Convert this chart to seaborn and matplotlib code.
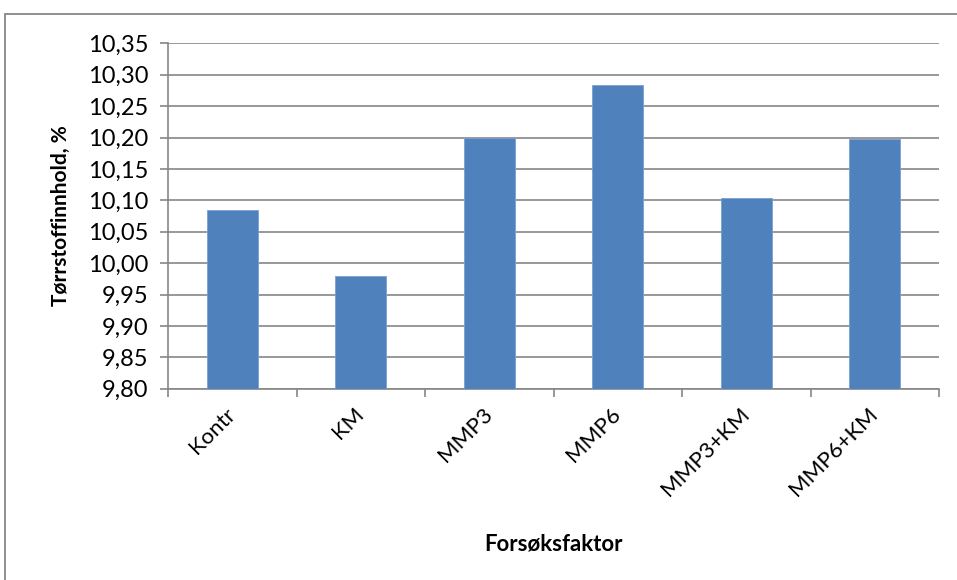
import matplotlib
matplotlib.use("Agg")
import matplotlib.pyplot as plt
from matplotlib.patches import Rectangle
from matplotlib.ticker import FixedLocator, FuncFormatter
import seaborn as sns
import pandas as pd

categories = ["Kontr", "KM", "MMP3", "MMP6", "MMP3+KM", "MMP6+KM"]
values = [10.084, 9.980, 10.200, 10.284, 10.103, 10.197]
y_ticks = [9.80, 9.85, 9.90, 9.95, 10.00, 10.05, 10.10, 10.15, 10.20, 10.25, 10.30, 10.35]

sns.set_theme(style="white")
plt.rcParams["font.family"] = ["Lato", "DejaVu Sans"]

df = pd.DataFrame({"Forsøksfaktor": categories, "value": values})

fig = plt.figure(figsize=(9.57, 5.8), dpi=100)
ax = fig.add_axes([168 / 957, 1 - 388.7 / 580, (939 - 168) / 957, (388.7 - 43.3) / 580])

grid_col = "#868686"
sns.barplot(data=df, x="Forsøksfaktor", y="value", color="#4f81bd", saturation=1,
            width=0.4, ax=ax, zorder=3, edgecolor="#7aa0d0", linewidth=0.6)

ax.set_ylim(9.80, 10.35)
ax.set_xlim(-0.5, len(categories) - 0.5)
ax.yaxis.set_major_locator(FixedLocator(y_ticks))
ax.yaxis.set_major_formatter(FuncFormatter(lambda v, p: f"{v:.2f}".replace(".", ",")))
ax.grid(axis="y", color=grid_col, linewidth=1.2, zorder=0)
ax.set_axisbelow(True)

for side in ["top", "right"]:
    ax.spines[side].set_visible(False)
for side in ["left", "bottom"]:
    ax.spines[side].set_color(grid_col)
    ax.spines[side].set_linewidth(1.2)

# category boundary ticks on the x axis
ax.set_xticks([i - 0.5 for i in range(len(categories) + 1)], minor=True)
ax.set_xticks(range(len(categories)))
ax.tick_params(axis="x", which="major", length=0, pad=16)
ax.tick_params(axis="x", which="minor", length=6, width=1.2, color=grid_col, direction="out", bottom=True)
ax.tick_params(axis="y", which="major", length=6, width=1.2, color=grid_col, direction="out", left=True,
               labelsize=17, labelcolor="black", pad=8)
ax.set_xticklabels(categories, rotation=45, ha="right", va="center", rotation_mode="anchor",
                   fontsize=16, color="black")

ax.set_xlabel("Forsøksfaktor", fontsize=16, fontweight="bold", color="black", labelpad=24)
ax.set_ylabel("Tørrstoffinnhold, %", fontsize=15, fontweight="bold", color="black", labelpad=12)

# chart area border
fig.patches.append(Rectangle((4.5 / 957, -0.05), 1.1, 1 - 13.5 / 580 + 0.05, transform=fig.transFigure,
                             fill=False, edgecolor="#878787", linewidth=1.3))

fig.savefig("out.png", dpi=100)
